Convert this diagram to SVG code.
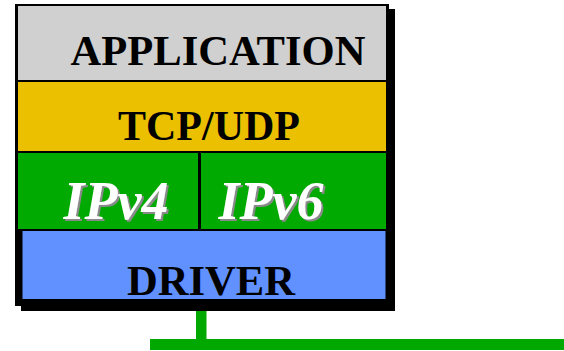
<svg xmlns="http://www.w3.org/2000/svg" width="564" height="351" viewBox="0 0 564 351">
<defs>
<filter id="sh" x="-10%" y="-10%" width="130%" height="130%">
<feOffset in="SourceAlpha" dx="2" dy="2" result="o"/>
<feFlood flood-color="#8a8a8a"/>
<feComposite in2="o" operator="in" result="s"/>
<feMerge><feMergeNode in="s"/><feMergeNode in="SourceGraphic"/></feMerge>
</filter>
</defs>
<style>
.lbl{font-family:"Liberation Serif","Times New Roman",serif;font-weight:bold;font-size:43px;fill:#000;text-anchor:middle}
.ip{font-family:"Liberation Serif","Times New Roman",serif;font-weight:bold;font-style:italic;font-size:54px;text-anchor:middle;fill:#fff;filter:url(#sh)}
.net{fill:#00a800}
</style>
<rect x="0" y="0" width="564" height="351" fill="#fff"/>
<g id="frame">
<rect x="21" y="9" width="374" height="302" fill="#000"/>
<rect x="15" y="4" width="374" height="302" fill="#000"/>
</g>
<g id="application">
<rect x="18" y="6" width="368" height="74" fill="#d0d0d0"/>
<text class="lbl" x="218" y="65" textLength="295" lengthAdjust="spacingAndGlyphs">APPLICATION</text>
</g>
<g id="tcpudp">
<rect x="18" y="82" width="368" height="69" fill="#ebc000"/>
<text class="lbl" x="209" y="140" textLength="182" lengthAdjust="spacingAndGlyphs">TCP/UDP</text>
</g>
<g id="ipv4">
<rect x="18" y="153" width="180" height="76" fill="#00aa00"/>
<text class="ip" x="116" y="219">IPv4</text>
</g>
<g id="ipv6">
<rect x="201" y="153" width="185" height="76" fill="#00aa00"/>
<text class="ip" x="271" y="219">IPv6</text>
</g>
<g id="driver">
<rect x="22.5" y="231" width="363" height="68" fill="#6190ff"/>
<text class="lbl" x="211" y="295" textLength="168" lengthAdjust="spacingAndGlyphs">DRIVER</text>
</g>
<g id="connectors">
<rect class="net" x="196" y="311" width="10.5" height="30"/>
<rect class="net" x="150" y="339" width="414" height="11"/>
</g>
</svg>
